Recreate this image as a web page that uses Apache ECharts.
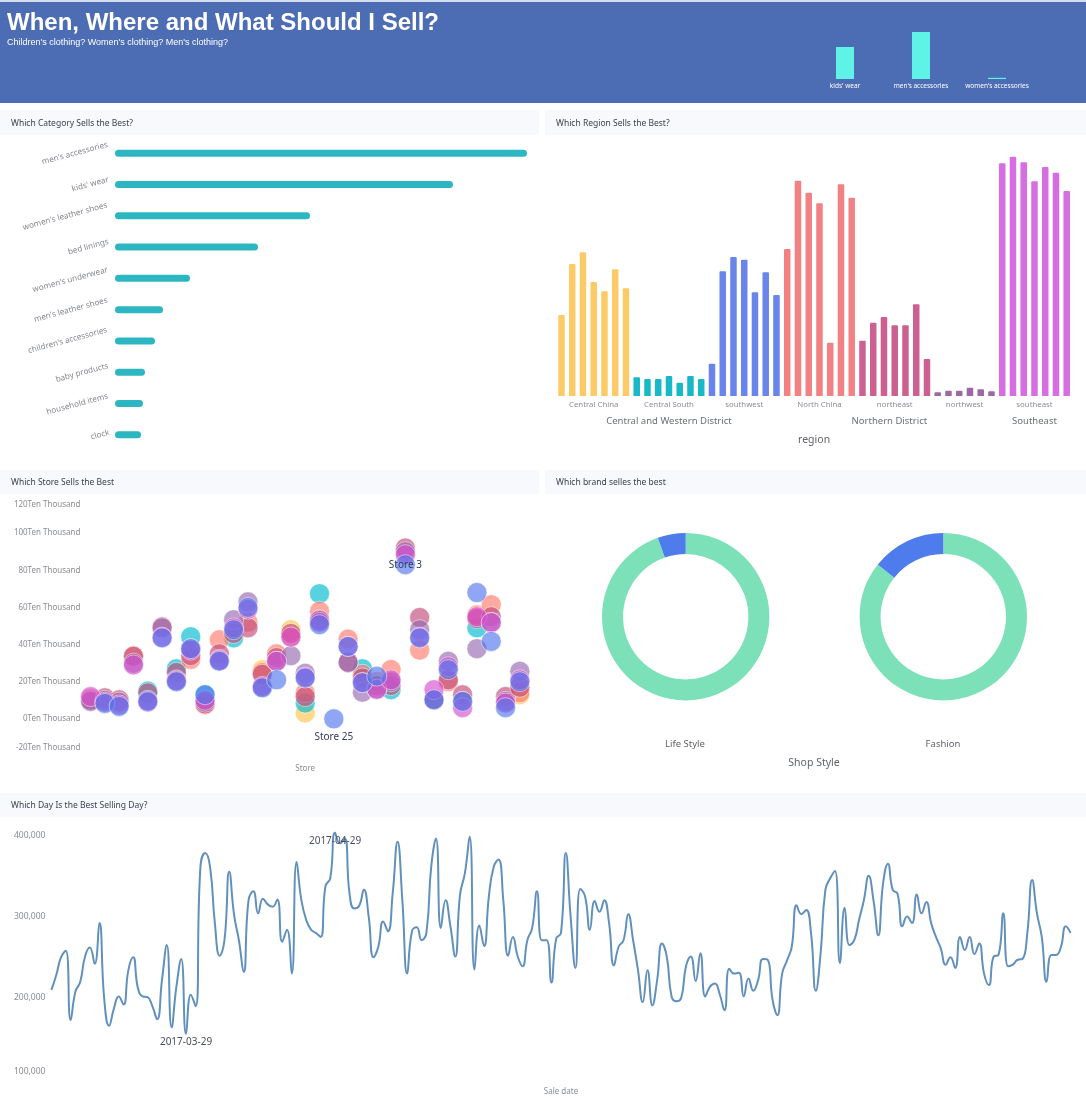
<!DOCTYPE html>
<html>
<head>
<meta charset="utf-8">
<title>When, Where and What Should I Sell?</title>
<script src="https://cdn.jsdelivr.net/npm/echarts@6/dist/echarts.min.js"></script>
<style>
  html, body { margin: 0; padding: 0; background: #fff; }
  #main { width: 1086px; height: 1108px; }
</style>
</head>
<body>
<div id="main"></div>
<script>
var chart = echarts.init(document.getElementById('main'));
var FONT = '"Noto Sans", sans-serif';
var GRAY = '#8a8d93';

// top right small bars
var headerBars = { names: ["kids' wear", "men's accessories", "women's accessories"], values: [32, 47, 1.2] };

// which category
var categories = ["men's accessories", "kids' wear", "women's leather shoes", 'bed linings', "women's underwear",
  "men's leather shoes", "children's accessories", 'baby products', 'household items', 'clock'];
var categorySales = [412, 338, 195, 143, 75, 48, 40, 30, 28, 26];

// which region, one bar for each store group
var regions = [
  { name: 'Central China', group: 'Central and Western District', color: '#fcc85f', values: [243, 396, 431, 342, 314, 380, 323] },
  { name: 'Central South', group: 'Central and Western District', color: '#0db4c4', values: [56, 51, 51, 60, 40, 60, 51] },
  { name: 'southwest', group: 'Central and Western District', color: '#617ee8', values: [97, 374, 417, 409, 311, 371, 303] },
  { name: 'North China', group: 'Northern District', color: '#f07a7c', values: [441, 646, 610, 578, 160, 635, 595] },
  { name: 'northeast', group: 'Northern District', color: '#c9578a', values: [166, 220, 237, 212, 212, 275, 111] },
  { name: 'northwest', group: 'Northern District', color: '#98609f', values: [11, 16, 16, 25, 20, 14] },
  { name: 'southeast', group: 'Southeast', color: '#d465de', values: [698, 718, 701, 644, 687, 670, 615] }
];

// which store: [yellow, cyan, salmon, rose, mauve, pink, blue], unit Ten Thousand
var stores = ['Store 1', 'Store 10', 'Store 11', 'Store 12', 'Store 13', 'Store 14', 'Store 15', 'Store 16', 'Store 17',
  'Store 18', 'Store 19', 'Store 2', 'Store 20', 'Store 21', 'Store 22', 'Store 23', 'Store 24', 'Store 25', 'Store 26',
  'Store 27', 'Store 28', 'Store 29', 'Store 3', 'Store 30', 'Store 31', 'Store 4', 'Store 5', 'Store 6', 'Store 7',
  'Store 8', 'Store 9'];
var storeSales = [
  [null, null, 11, 10, 9.4, 12, null],
  [null, null, null, 11.3, 10, 9, 8.3],
  [null, null, null, 10.3, 9, 7.5, 6.7],
  [null, null, 34, 33.7, 30, 29, null],
  [null, 15, null, 14, 10, 9, 9.4],
  [null, null, null, 49.6, 49, 44, 43.6],
  [null, 27, null, 25, 21, 20.5, 20],
  [null, 44.2, 32, 34, 37.8, 37, 37.8],
  [null, 13, 7.6, 8, 9, 10, 13],
  [null, null, 42.6, 35, 32, 31.5, 31],
  [null, 43.6, null, 46, 53.4, 49, 48],
  [null, null, 52, 49, 63, 59, 60],
  [26.5, null, 25, 24, 17, 17.5, 16.7],
  [null, null, 35, 33, 31, 31, 21],
  [48, null, 44.4, 46, 34, 44, null],
  [3.2, 8.5, 14, 12, 24.5, 22.5, 22],
  [null, 67.4, 58, 53.4, 53, 52, 50.7],
  [null, null, null, null, null, null, 0],
  [null, null, 43, 30.4, 30.4, 39, 39],
  [null, 27, 24, 22, 14.3, 19.5, 19.5],
  [null, null, 20, 18, 15.7, 16, 23],
  [null, 15.7, 26.6, 18, 20, 21, null],
  [null, null, null, 92, 90, 88.4, 83],
  [null, null, 37, 54.6, 48, 44, 43.6],
  [null, null, null, 10, 10.5, 15.7, 10.3],
  [null, null, 20, 21, 31, 28, 26.5],
  [null, null, null, 13, 9.4, 6, 9.4],
  [null, 49, 56, 54, 37.8, 55, 68],
  [null, null, 61.5, 55, 52, 51.8, 41.7],
  [null, null, null, 12, 9.4, 8.5, 6],
  [13, null, 14, 17, 25.6, 21, 20]
];
var storeColors = ['#ffc34b', '#00bacf', '#ff7b6d', '#c24a78', '#966aaf', '#d64fd0', '#5176ee'];
var storeLabels = { 'Store 25': 'bottom', 'Store 3': 'inside' };

// which day, starts 2017-03-01
var daySales = [210, 228, 250, 258, 173, 208, 220, 251, 262, 242, 292, 198, 166, 187, 202, 192, 234, 250, 212, 202, 201,
  190, 174, 222, 265, 164, 214, 248, 156, 204, 190, 361, 378, 361, 292, 252, 271, 355, 302, 271, 232, 320, 331, 304, 322,
  315, 312, 321, 269, 284, 230, 367, 320, 296, 284, 280, 275, 337, 347, 403, 390, 396, 329, 310, 313, 333, 300, 250, 263,
  294, 282, 329, 392, 320, 230, 282, 287, 271, 280, 361, 396, 286, 320, 288, 251, 327, 353, 398, 235, 289, 264, 325, 361,
  370, 320, 252, 275, 251, 239, 271, 286, 331, 271, 271, 219, 273, 280, 378, 300, 237, 334, 325, 284, 319, 306, 320, 292,
  240, 263, 271, 303, 271, 235, 195, 234, 191, 222, 267, 251, 202, 196, 200, 239, 251, 221, 255, 202, 214, 218, 205, 185,
  236, 230, 231, 202, 224, 209, 222, 248, 247, 198, 179, 230, 246, 263, 314, 303, 308, 280, 209, 255, 333, 347, 356, 243,
  311, 265, 271, 296, 320, 350, 320, 277, 341, 365, 333, 328, 288, 300, 292, 327, 304, 318, 292, 275, 261, 241, 250, 237,
  275, 259, 275, 254, 267, 230, 216, 251, 253, 304, 239, 241, 247, 248, 280, 345, 304, 275, 220, 253, 253, 263, 288, 280];

function dateName(i) {
  var d = new Date(Date.UTC(2017, 2, 1 + i));
  return d.toISOString().slice(0, 10);
}

// worst and best day get their date written under them
function dayMark(i) {
  return { coord: [dateName(i), daySales[i] * 1000], name: dateName(i) };
}

// flatten the region bars and work out where each label sits
var regionBars = [];
var regionLabels = [];
var groupLabels = [];
regions.forEach(function (r) {
  var start = regionBars.length;
  r.values.forEach(function (v) {
    regionBars.push({ value: v, itemStyle: { color: r.color } });
  });
  regionLabels.push({ at: start + r.values.length / 2, name: r.name });
  var last = groupLabels[groupLabels.length - 1];
  if (last && last.name === r.group) {
    last.end = regionBars.length;
  } else {
    groupLabels.push({ name: r.group, start: start, end: regionBars.length });
  }
});
groupLabels.forEach(function (g) { g.at = (g.start + g.end) / 2; });

function labelName(list, value) {
  var found = list.filter(function (l) { return l.at === value; })[0];
  return found ? found.name : '';
}

// rotated labels turn round their right end, lift each one so its middle sits on the bar
var categoryRich = {};
categories.forEach(function (name, i) {
  categoryRich['c' + i] = { padding: [0, 0, name.length * 1.05, 0] };
});

function sectionTitle(text, left, top) {
  return { text: text, left: left, top: top, padding: 0, textStyle: { fontFamily: FONT, fontSize: 8.5, fontWeight: 'normal', color: '#3c4150' } };
}
function smallTitle(text, centerX, top, size) {
  return { text: text, left: centerX, top: top, padding: 0, textAlign: 'center', textStyle: { fontFamily: FONT, fontSize: size, fontWeight: 'normal', color: '#5f6368' } };
}
function band(x, y, w, h, color) {
  return { type: 'rect', silent: true, shape: { x: x, y: y, width: w, height: h }, style: { fill: color } };
}

var series = [
  {
    type: 'bar', xAxisIndex: 0, yAxisIndex: 0, barWidth: 18, data: headerBars.values,
    itemStyle: { color: '#5ff2e6' }
  },
  {
    type: 'bar', xAxisIndex: 1, yAxisIndex: 1, barWidth: 7, data: categorySales,
    itemStyle: { color: '#2bb6c2', borderRadius: 3.5 }
  },
  {
    type: 'bar', xAxisIndex: 2, yAxisIndex: 2, barWidth: 6.5, data: regionBars,
    itemStyle: { opacity: 0.95, borderRadius: [1, 1, 0, 0] }
  },
  {
    type: 'line', xAxisIndex: 6, yAxisIndex: 4, smooth: true, symbol: 'none',
    lineStyle: { color: '#6190bc', width: 2 },
    data: daySales.map(function (v) { return v * 1000; }),
    markPoint: {
      symbol: 'circle', symbolSize: 1, silent: true, itemStyle: { color: 'transparent' },
      label: { show: true, position: 'bottom', distance: 3, formatter: '{b}', fontFamily: FONT, fontSize: 10, color: '#4a4f5c' },
      data: [dayMark(28), dayMark(59)]
    }
  },
  {
    type: 'pie', center: [685.7, 616.7], radius: [62.7, 83.7], startAngle: 90, label: { show: false }, silent: true,
    data: [{ name: 'Life Style', value: 94.6, itemStyle: { color: '#7ce0b8' } }, { name: 'other', value: 5.4, itemStyle: { color: '#4f7cec' } }]
  },
  {
    type: 'pie', center: [943.3, 616.7], radius: [62.7, 83.7], startAngle: 90, label: { show: false }, silent: true,
    data: [{ name: 'Fashion', value: 85.7, itemStyle: { color: '#7ce0b8' } }, { name: 'other', value: 14.3, itemStyle: { color: '#4f7cec' } }]
  }
];

storeColors.forEach(function (color, s) {
  series.push({
    type: 'scatter', xAxisIndex: 5, yAxisIndex: 3, symbolSize: 20,
    itemStyle: { color: color, opacity: 0.65, borderColor: 'rgba(255,255,255,0.75)', borderWidth: 1 },
    data: stores.map(function (name, i) {
      var pos = storeLabels[name];
      return {
        value: storeSales[i][s],
        label: {
          show: !!pos && storeSales[i][s] !== null && s === 6, position: pos || 'inside', distance: 3, formatter: name,
          fontFamily: FONT, fontSize: 10, color: '#333c5a', opacity: 1
        }
      };
    })
  });
});

var option = {
  animation: false,
  graphic: [
    band(0, 0, 1086, 2, '#d5ddef'),
    band(0, 2, 1086, 101, '#4c6cb3'),
    band(0, 110, 539, 25, '#f7f9fd'),
    band(545, 110, 541, 25, '#f7f9fd'),
    band(0, 470, 539, 24, '#f7f9fd'),
    band(545, 470, 541, 24, '#f7f9fd'),
    band(0, 793, 1086, 24, '#f7f9fd')
  ],
  title: [
    { text: 'When, Where and What Should I Sell?', left: 7, top: 11, padding: 0, textStyle: { fontFamily: '"Liberation Sans", Arial, sans-serif', fontSize: 24, fontWeight: 'bold', color: '#fff' } },
    { text: "Children's clothing? Women's clothing? Men's clothing?", left: 7, top: 38, padding: 0, textStyle: { fontFamily: '"Liberation Sans", Arial, sans-serif', fontSize: 9, fontWeight: 'normal', color: '#fff' } },
    sectionTitle('Which Category Sells the Best?', 11, 119),
    sectionTitle('Which Region Sells the Best?', 556, 119),
    sectionTitle('Which Store Sells the Best', 11, 478),
    sectionTitle('Which brand selles the best', 556, 478),
    sectionTitle('Which Day Is the Best Selling Day?', 11, 801),
    smallTitle('Life Style', 685, 739, 9.5),
    smallTitle('Fashion', 943, 739, 9.5),
    smallTitle('Shop Style', 814, 758, 10.5)
  ],
  grid: [
    { left: 807, top: 29, width: 228, height: 50 },
    { left: 115, top: 137.5, width: 412, height: 313 },
    { left: 556.1, top: 156, width: 516, height: 240 },
    { left: 83.4, top: 496, width: 443.6, height: 260 },
    { left: 51.4, top: 827, width: 1019.2, height: 252.5 }
  ],
  xAxis: [
    {
      gridIndex: 0, type: 'category', data: headerBars.names,
      axisLine: { show: false }, axisTick: { show: false },
      axisLabel: { fontFamily: FONT, fontSize: 6.5, color: '#fff', margin: 4, interval: 0 }
    },
    { gridIndex: 1, type: 'value', min: 0, max: 412, show: false },
    { gridIndex: 2, type: 'category', data: regionBars.map(function (b, i) { return i; }), show: false },
    {
      // region labels, same width as the bars so 1 unit = 1 bar
      gridIndex: 2, type: 'value', min: 0, max: regionBars.length, position: 'bottom',
      splitLine: { show: false }, axisLine: { show: false }, axisTick: { show: false },
      axisLabel: {
        customValues: regionLabels.map(function (l) { return l.at; }), margin: 5, fontFamily: FONT, fontSize: 7.8, color: GRAY,
        formatter: function (v) { return labelName(regionLabels, v); }
      }
    },
    {
      gridIndex: 2, type: 'value', min: 0, max: regionBars.length, position: 'bottom',
      name: 'region', nameLocation: 'middle', nameGap: 39, nameTextStyle: { fontFamily: FONT, fontSize: 10.5, color: '#5f6368' },
      splitLine: { show: false }, axisLine: { show: false }, axisTick: { show: false },
      axisLabel: {
        customValues: groupLabels.map(function (l) { return l.at; }), margin: 20.5, fontFamily: FONT, fontSize: 9.5, color: '#6b6f75',
        formatter: function (v) { return labelName(groupLabels, v); }
      }
    },
    {
      gridIndex: 3, type: 'category', data: stores,
      name: 'Store', nameLocation: 'middle', nameGap: 9, nameTextStyle: { fontFamily: FONT, fontSize: 8, color: GRAY },
      axisLine: { show: false }, axisTick: { show: false }, axisLabel: { show: false }
    },
    {
      gridIndex: 4, type: 'category', boundaryGap: false, data: daySales.map(function (v, i) { return dateName(i); }),
      name: 'Sale date', nameLocation: 'middle', nameGap: 8, nameTextStyle: { fontFamily: FONT, fontSize: 8, color: GRAY },
      axisLine: { show: false }, axisTick: { show: false }, axisLabel: { show: false }
    }
  ],
  yAxis: [
    { gridIndex: 0, type: 'value', min: 0, max: 50, show: false },
    {
      gridIndex: 1, type: 'category', inverse: true, data: categories,
      axisLine: { show: false }, axisTick: { show: false },
      axisLabel: {
        rotate: 15, fontFamily: FONT, fontSize: 8.1, color: '#85888e', margin: 5, interval: 0, rich: categoryRich,
        formatter: function (name) { return '{c' + categories.indexOf(name) + '|' + name + '}'; }
      }
    },
    { gridIndex: 2, type: 'value', min: 0, max: 720, show: false },
    {
      gridIndex: 3, type: 'value', min: -20, max: 120, interval: 20,
      splitLine: { show: false }, axisLine: { show: false }, axisTick: { show: false },
      axisLabel: {
        fontFamily: FONT, fontSize: 8, color: GRAY, margin: 3,
        rich: { top: { padding: [18, 0, 0, 0] }, low: { padding: [0, 0, 16, 0] } },
        formatter: function (v) {
          var text = v + 'Ten Thousand';
          if (v === 120) return '{top|' + text + '}';
          if (v === -20) return '{low|' + text + '}';
          return text;
        }
      }
    },
    {
      gridIndex: 4, type: 'value', min: 100000, max: 410000, interval: 100000,
      splitLine: { show: false }, axisLine: { show: false }, axisTick: { show: false },
      axisLabel: {
        fontFamily: FONT, fontSize: 8.5, color: GRAY, margin: 6, showMaxLabel: false,
        rich: { low: { padding: [0, 0, 16, 0] } },
        formatter: function (v) {
          var text = v.toLocaleString('en-US');
          return v === 100000 ? '{low|' + text + '}' : text;
        }
      }
    }
  ],
  series: series
};
chart.setOption(option);
</script>
</body>
</html>
